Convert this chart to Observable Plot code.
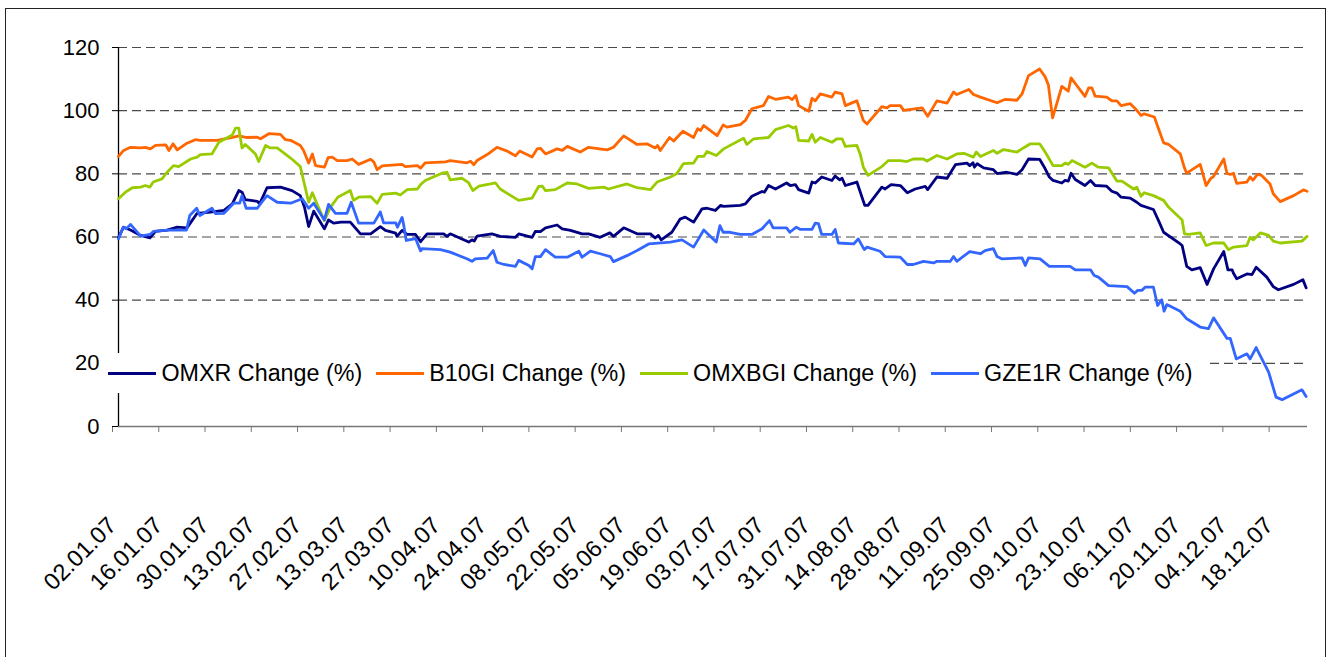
<!DOCTYPE html>
<html><head><meta charset="utf-8">
<script src="https://cdn.jsdelivr.net/npm/d3@7"></script>
<script src="https://cdn.jsdelivr.net/npm/@observablehq/plot@0.6"></script>
<style>
html,body{margin:0;padding:0;background:#fff;}
#wrap{position:relative;width:1333px;height:657px;overflow:hidden;font-family:"Liberation Sans",Arial,sans-serif;}
#frame{position:absolute;left:5px;top:8px;width:1321px;height:700px;border:1px solid #222;box-sizing:border-box;pointer-events:none;}
#chart{position:absolute;left:0;top:0;}
#legend{position:absolute;left:105px;top:353px;width:1102px;height:40px;background:#fff;display:flex;align-items:center;font-size:23.3px;color:#000;}
.item{display:flex;align-items:center;margin-left:3px;margin-right:10.5px;}
.sw{width:48px;height:3px;margin-right:5.5px;}
</style></head>
<body><div id="wrap"><div id="frame"></div><div id="chart"></div><div id="legend"></div></div>
<script>
// trading-day index (0 = 02.01.07) and value in %
const seriesNames = ["OMXR Change (%)", "B10GI Change (%)", "OMXBGI Change (%)", "GZE1R Change (%)"];
const seriesColors = ["#000080", "#FF6600", "#99CC00", "#3366FF"];
const tickLabels = ["02.01.07","16.01.07","30.01.07","13.02.07","27.02.07","13.03.07","27.03.07","10.04.07","24.04.07","08.05.07","22.05.07","05.06.07","19.06.07","03.07.07","17.07.07","31.07.07","14.08.07","28.08.07","11.09.07","25.09.07","09.10.07","23.10.07","06.11.07","20.11.07","04.12.07","18.12.07"];
const yTicks = [0, 20, 40, 60, 80, 100, 120];

const OMXR = [[0,59.9],[1.1,63.1],[2.6,62.2],[4.8,60.5],[6.8,59.7],[8.0,61.8],[10.5,62.2],[12.7,63.1],[14.8,62.9],[17.0,67.5],[19.9,67.9],[22.8,68.4],[24.6,70.5],[26.0,74.7],[26.7,74.2],[27.4,71.8],[30.0,71.3],[30.5,70.5],[32.1,75.6],[35.0,75.8],[37.5,74.7],[39.3,73.1],[40.2,69.4],[41.1,63.3],[42.2,68.2],[44.5,62.6],[45.4,65.4],[46.5,64.4],[48.1,64.7],[50.1,64.7],[52.3,61],[54.5,61],[56.6,63.3],[57.7,62.1],[59.9,61.2],[60.2,60.2],[61.3,62.1],[62.4,60.8],[64.2,60.8],[65.3,58.5],[66.7,61],[70.3,61],[71.0,60.2],[71.7,61],[74.6,59.1],[75.7,58.4],[76.4,59.1],[76.9,58.7],[77.5,60.3],[80.7,61],[82.5,60.2],[85.8,59.9],[86.5,61],[89.4,59.9],[90.1,61.8],[91.2,61.7],[92.3,62.9],[94.8,63.8],[95.9,62.6],[97.7,62.1],[100.2,61],[101.6,61],[104.1,59.9],[106.2,61.3],[107.0,60.2],[109.2,62.9],[112.1,61],[115.0,61],[116.0,59.7],[116.7,60.5],[117.3,59.1],[119.6,61.5],[121.4,65.7],[122.5,66.3],[124.3,64.7],[126.1,68.9],[127.2,69.1],[129.0,68.4],[130.1,70],[130.8,69.7],[134.4,70],[135.5,70.5],[136.9,72.9],[139.1,74.4],[139.6,74.2],[140.5,76.3],[142.0,75.2],[144.4,77.1],[145.2,76.3],[146.3,76.6],[147.0,75],[149.2,73.9],[149.9,77.4],[150.6,77.1],[152.0,79],[154.2,77.9],[154.9,79.3],[155.9,78.1],[156.4,78.6],[157.1,76.3],[159.6,77.4],[161.3,70],[162.0,70],[165.0,75.8],[165.7,75.2],[167.0,76.6],[169.0,76.3],[170.5,74],[172.2,75.2],[174.4,76],[174.9,75],[176.9,79],[179.1,78.6],[180.9,82.9],[183.4,83.4],[184.0,82.6],[184.7,83.5],[185.0,82.1],[185.6,83.2],[187.0,81.9],[189.1,81.3],[189.9,80.1],[192.0,80.5],[194.2,79.8],[195.3,81.3],[196.7,84.7],[199.1,84.6],[200.3,81.6],[201.2,79],[202.0,77.9],[203.9,77.1],[204.6,77.9],[205.3,77.7],[205.9,80.2],[206.8,78.2],[208.9,76.3],[210.1,77.9],[211.1,76.3],[213.6,76.1],[214.7,74.5],[215.8,73.9],[216.7,72.6],[218.7,72.3],[220.1,71],[221.0,70],[223.7,68.7],[224.8,65.2],[225.9,61.5],[229.5,57.8],[229.9,57.3],[230.9,50.7],[232.0,49.6],[233.8,50.3],[235.3,45],[236.7,49.9],[238.9,55.4],[239.8,49.6],[240.7,49.6],[241.0,48.5],[241.7,46.8],[243.9,48.3],[245.0,48.1],[245.9,50.4],[248.2,47.3],[249.6,44.3],[250.7,43.3],[254.0,45],[256.0,46.5],[256.7,43.9]];

const B10GI = [[0,85.5],[1.1,87.4],[2.6,88.4],[4.8,88.2],[5.8,88.4],[6.9,87.9],[8.0,89],[10.2,89.2],[10.9,87.4],[11.8,89.5],[12.7,87.6],[14.8,89.7],[16.6,90.8],[17.7,90.6],[21.3,90.6],[24.9,91.6],[26.0,92],[27.8,91.5],[30.0,91.6],[30.7,91.1],[32.5,92.7],[35.0,92.5],[36.1,90.8],[37.2,90.6],[39.3,89],[40.0,87.4],[41.1,83.4],[41.9,86.3],[42.6,82.6],[44.5,82.1],[45.3,85.1],[46.2,85.3],[47.3,84.2],[49.4,84.2],[50.5,84.7],[51.9,83],[54.5,84.6],[55.2,83.7],[55.9,81.3],[57.0,82.5],[61.3,83],[62.0,82.3],[64.6,82.6],[65.3,81.8],[66.3,83.5],[70.7,83.8],[71.7,84.2],[75.3,83.5],[76.1,84],[76.8,82.9],[77.5,84.2],[79.7,86.1],[81.8,88.4],[84.0,87.2],[85.8,85.7],[86.7,87.2],[89.4,85.3],[90.5,87.9],[91.2,88.1],[92.3,86.3],[94.8,87.9],[95.9,87.4],[97.0,88.7],[99.8,86.9],[101.6,88.4],[105.6,87.6],[107.0,88.4],[109.2,92],[112.1,89.3],[114.2,89.5],[116.0,88.2],[116.5,89],[117.1,87.4],[119.1,91.5],[120.0,90.4],[122.0,93.5],[124.3,91.5],[125.2,94.3],[125.8,93.7],[126.5,95.3],[129.4,92.1],[130.7,95.5],[131.5,94.8],[134.4,95.6],[135.5,96.9],[136.9,100.6],[139.4,101.6],[140.5,104.5],[142.0,103.6],[144.8,104.3],[145.6,103.5],[146.4,104.8],[147.0,101.6],[149.2,99.8],[149.9,103.9],[150.6,103.1],[151.7,105.3],[154.2,104.3],[154.9,105.9],[156.4,105.3],[157.1,101.6],[159.6,103.1],[161.0,96.9],[161.8,95.8],[165.0,101.3],[166.1,100.9],[166.8,101.6],[169.0,101.6],[169.7,100.1],[173.7,100.9],[174.9,98.2],[176.9,103.1],[179.1,102.4],[180.5,105.9],[181.2,105.1],[183.8,106.7],[184.8,105.1],[186.3,104.3],[189.9,102.5],[191.7,103.6],[194.2,103.3],[195.3,105.3],[196.7,111.1],[199.1,113.2],[200.3,110.7],[201.0,108.1],[201.9,97.7],[203.9,107.7],[205.3,106.2],[205.9,110.4],[206.8,108.6],[208.9,104.5],[209.7,107.2],[210.4,107.2],[211.1,104.6],[213.6,104.3],[214.7,103.1],[215.8,103.1],[216.7,101.6],[218.7,102.2],[220.1,100.1],[221.0,98.5],[221.7,99],[223.9,98],[224.8,94.3],[225.9,89.8],[227.0,89.3],[229.5,86.3],[230.4,81.9],[230.9,80.2],[233.8,83],[235.1,76.3],[236.0,78.4],[236.7,79.2],[238.9,84.7],[239.6,80.1],[240.3,79.8],[241.0,80.2],[241.7,77],[243.9,77.4],[244.6,79],[245.2,78],[246.2,79.8],[247.1,79.5],[248.9,76.8],[249.6,73.7],[251.1,71.2],[254.0,73.1],[256.1,74.9],[256.9,74.5]];

const OMXBGI = [[0,72.1],[1.5,74.2],[3.0,75.6],[4.8,75.8],[5.8,76.3],[6.8,75.8],[7.5,77.4],[9.4,78.4],[10.5,80.5],[11.9,82.6],[13.0,82.3],[15.6,84.7],[17.0,85.3],[17.7,86.1],[20.2,86.3],[21.7,90],[23.1,91.1],[24.6,92.3],[25.3,94.5],[26.0,94.5],[26.7,88.2],[27.4,89.3],[29.6,86.3],[30.3,83.9],[31.8,89],[32.8,88.2],[34.3,88.2],[37.2,85],[39.3,82.3],[41.1,71],[41.9,74],[42.9,70.5],[44.5,65.2],[45.8,69.4],[47.4,72.6],[50.1,74.7],[50.8,71.6],[51.9,72.6],[54.5,72.8],[55.9,70.7],[57.0,73.5],[59.9,73.9],[60.9,73.3],[62.4,75],[64.6,75.2],[65.3,76.6],[66.3,77.9],[69.9,80.2],[71.0,80.5],[71.7,78.1],[74.3,78.6],[75.7,77.1],[76.6,74.7],[77.9,76.1],[81.5,77.1],[82.5,75.2],[86.5,71.6],[89.4,72.3],[90.8,76],[91.6,76.1],[92.3,74.7],[94.4,75],[97.0,77.1],[99.1,76.8],[101.6,75.4],[104.9,75.8],[105.9,75.2],[109.9,76.8],[112.1,75.6],[115.0,75],[116.4,77.4],[119.3,79],[120.7,80.1],[122.1,83.2],[124.3,83.4],[125.2,85.5],[126.5,85.5],[127.2,87.1],[129.2,85.8],[130.8,87.9],[135.1,91.3],[135.8,89.3],[137.3,91.1],[140.5,91.5],[142.0,94],[144.8,95.3],[145.9,94.5],[146.4,94.9],[147.0,90.6],[149.2,90.4],[149.9,92.5],[150.6,90],[151.7,91.5],[154.2,90],[155.3,91.1],[156.4,91.1],[157.1,88.7],[159.6,89],[160.3,86.3],[161.0,82.1],[162.0,79.5],[165.0,82.3],[166.4,84.2],[169.0,84.2],[170.4,83.9],[171.8,84.7],[174.0,84.7],[174.7,84],[176.9,85.8],[179.1,84.7],[181.2,86.3],[182.7,86.5],[184.8,85.3],[185.4,86.9],[186.3,85.5],[189.1,87.4],[189.9,86.5],[191.3,87.7],[194.2,86.9],[195.6,88.2],[197.1,89.5],[199.1,89.5],[200.3,86.9],[202.0,82.6],[203.9,82.6],[204.6,83.4],[205.3,83],[206.1,84.2],[208.9,82.1],[210.4,83.4],[211.8,82.1],[214.0,81.9],[215.8,77.7],[216.9,77.7],[219.4,75.2],[220.1,75.8],[221.0,72.9],[221.7,74],[223.7,73.1],[225.9,71.6],[227.0,69.4],[229.9,65.4],[230.4,61],[231.3,60.8],[233.8,61.3],[235.1,57.3],[236.7,58.1],[238.9,58.1],[239.9,56],[241.0,56.8],[243.9,57.3],[244.6,59.9],[245.3,59.1],[246.8,61.3],[248.6,60.5],[249.6,58.7],[251.1,58.1],[255.8,58.7],[256.9,60.2]];

const GZE1R = [[0,59.4],[1.0,63.1],[1.7,62.6],[2.6,64],[4.8,60.3],[6.8,60.8],[7.6,61.8],[10.5,62.2],[14.7,62.2],[15.4,66.8],[16.9,69.1],[17.6,66.8],[20.2,69.1],[21.0,67.4],[22.8,67.5],[24.9,70.7],[26.2,70.7],[26.7,73.1],[27.6,69.1],[30.0,69.1],[31.1,71.3],[32.1,73.1],[34.3,71],[37.2,70.7],[39.7,72.1],[41.1,69.1],[42.2,70.7],[44.5,65.4],[45.4,70.3],[46.9,67.5],[49.4,67.5],[50.3,71],[51.9,64.4],[55.2,64.4],[56.6,67.9],[57.3,64.5],[59.9,64.5],[60.3,63.1],[61.3,66.2],[61.6,64.2],[62.2,58.9],[64.2,59.5],[65.3,55.6],[65.6,56.3],[69.6,56],[71.7,55.2],[75.3,53.1],[76.4,52.3],[77.1,53.1],[79.7,53.3],[81.0,55.7],[81.8,52],[83.3,51.3],[85.8,50.7],[86.5,52.6],[88.7,51],[89.4,49.9],[90.1,53.8],[91.2,53.8],[92.3,56],[94.4,53.6],[97.0,53.6],[99.5,55.5],[100.2,53.6],[102.0,55.5],[104.1,54.7],[106.3,53.8],[107.0,52.2],[109.9,54.1],[112.1,55.7],[114.6,57.8],[119.3,58.4],[121.8,59.1],[124.3,56.8],[125.8,60.5],[126.5,62.2],[129.2,58.4],[130.0,63.6],[130.7,61.5],[132.2,61.5],[134.4,60.8],[136.9,60.8],[139.1,62.6],[140.7,65.2],[141.5,62.9],[144.4,62.9],[145.1,61.5],[146.5,63.1],[147.4,62.4],[149.9,62.4],[150.6,64.4],[151.3,64.2],[152.0,60.8],[154.2,60.8],[154.9,62.4],[155.6,58.1],[158.9,57.8],[159.9,59.4],[161.2,56],[161.8,56.8],[164.6,55.5],[165.7,53.8],[169.0,53.6],[170.5,51.3],[171.8,51.3],[174.0,52.3],[176.2,51.8],[176.9,52.3],[179.8,52.3],[180.5,53.8],[181.2,52.3],[184.0,55.4],[186.3,54.7],[187.3,55.7],[189.1,56.3],[189.9,53.8],[190.9,53.1],[195.3,53.4],[196.0,51],[196.7,53.4],[199.2,53.1],[201.2,50.7],[205.7,50.7],[206.8,49.6],[210.1,49.6],[210.9,47.8],[211.8,47.3],[214.0,44.6],[218.0,44.3],[219.6,42.2],[220.3,43.1],[221.2,43.1],[221.9,44.1],[223.7,44.1],[224.6,38.3],[225.5,40.1],[226.0,36.5],[226.6,38.6],[229.5,36.5],[230.9,34.1],[233.8,31.5],[235.6,31],[236.7,34.4],[239.6,27.9],[240.3,27.9],[241.6,21.4],[243.9,23],[244.6,21.4],[245.9,25],[247.5,20.4],[248.6,17.2],[250.2,9.3],[251.5,8.5],[255.8,11.6],[256.7,9.5]];

const allSeries = [OMXR, B10GI, OMXBGI, GZE1R];
const lastDay = 257;
const tickDays = tickLabels.map((_, i) => i * 10);

const lineMarks = allSeries.map((s, k) =>
  Plot.line(s, {x: d => d[0], y: d => d[1], stroke: seriesColors[k], strokeWidth: 2.8, strokeLinejoin: "round", strokeLinecap: "round"})
);

const chart = Plot.plot({
  width: 1333,
  height: 657,
  marginLeft: 118,
  marginRight: 26,
  marginTop: 47,
  marginBottom: 231,
  x: {domain: [0, lastDay], axis: null},
  y: {domain: [0, 120], axis: null},
  style: {fontFamily: "'Liberation Sans', Arial, sans-serif", color: "#000", background: "transparent", overflow: "visible"},
  marks: [
    Plot.gridY(yTicks.filter(d => d > 0), {stroke: "#4a4a4a", strokeOpacity: 1, strokeWidth: 1.2, strokeDasharray: "9,5"}),
    Plot.ruleY([0], {stroke: "#777", strokeWidth: 1.3}),
    Plot.axisX(tickDays, {tickSize: 6, tickRotate: -45, tickPadding: 89, dx: -6, fontSize: 23.5, stroke: "#777", tickFormat: d => tickLabels[d / 10], label: null}),
    Plot.axisY(yTicks, {tickSize: 6, tickPadding: 13, fontSize: 22, stroke: "#000", tickFormat: d => String(d), label: null}),
    Plot.ruleX([0], {stroke: "#000", strokeWidth: 1.3}),
    ...lineMarks
  ]
});
document.getElementById("chart").appendChild(chart);

const legend = document.getElementById("legend");
seriesNames.forEach((name, k) => {
  const it = document.createElement("div");
  it.className = "item";
  const sw = document.createElement("div");
  sw.className = "sw";
  sw.style.background = seriesColors[k];
  const tx = document.createElement("span");
  tx.textContent = name;
  it.appendChild(sw); it.appendChild(tx);
  legend.appendChild(it);
});
</script>
</body></html>
